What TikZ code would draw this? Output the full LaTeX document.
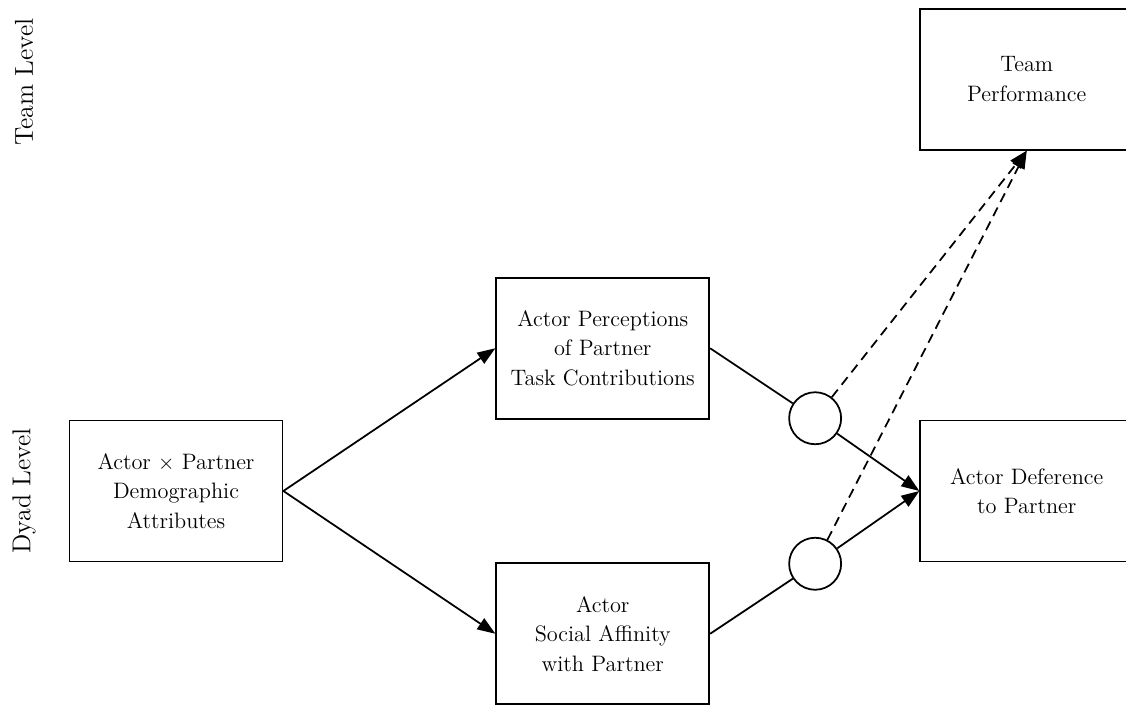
\documentclass[tikz,border=0pt]{standalone}
\usepackage{amsmath, amssymb}
\usepackage{tikz}
\usetikzlibrary{arrows.meta, positioning}

\begin{document}
\begin{tikzpicture}[
    construct/.style={draw, line width=1pt, minimum width=4.26cm, minimum height=2.82cm, align=center, inner sep=0pt, font=\fontsize{12.7}{16.8}\selectfont},
    joint/.style={draw, line width=1pt, circle, minimum size=1.04cm, inner sep=0pt},
    levellabel/.style={rotate=90, font=\fontsize{14.7}{17}\selectfont},
    path/.style={line width=1pt},
    effect/.style={line width=1pt, -{Triangle[length=0.36cm, width=0.26cm]}},
    spill/.style={effect, dash pattern=on 5.5pt off 3.5pt}
]
    \useasboundingbox (-3.52,9.82) rectangle (19.0,-4.26);

    % Constructs - relative positioning
    \node[construct] (demog) at (0,0) {Actor $\times$ Partner\\Demographic\\Attributes};
    \node[construct, above right=0cm and 4.24cm of demog] (percep) {Actor Perceptions\\of Partner\\Task Contributions};
    \node[construct, below right=0cm and 4.24cm of demog] (affin) {Actor\\Social Affinity\\with Partner};
    \node[construct, right=12.72cm of demog] (defer) {Actor Deference\\to Partner};
    \node[construct, above=5.38cm of defer] (teamperf) {Team\\Performance};

    % Junctions on the way to deference
    \node[joint, below right=1.4cm and 2.1cm of percep.east, anchor=center] (j1) {};
    \node[joint, above right=1.4cm and 2.1cm of affin.east, anchor=center] (j2) {};

    % Level labels
    \node[levellabel] (teamlvl) at (-3.04,8.18) {Team Level};
    \node[levellabel] (dyadlvl) at (-3.04,0) {Dyad Level};

    % Arrows
    \draw[effect] (demog.east) -- (percep.west);
    \draw[effect] (demog.east) -- (affin.west);
    \draw[path] (percep.east) -- (j1);
    \draw[path] (affin.east) -- (j2);
    \draw[effect] (j1) -- (defer.west);
    \draw[effect] (j2) -- (defer.west);
    \draw[spill] (j1) -- (teamperf.south);
    \draw[spill] (j2) -- (teamperf.south);
\end{tikzpicture}
\end{document}
